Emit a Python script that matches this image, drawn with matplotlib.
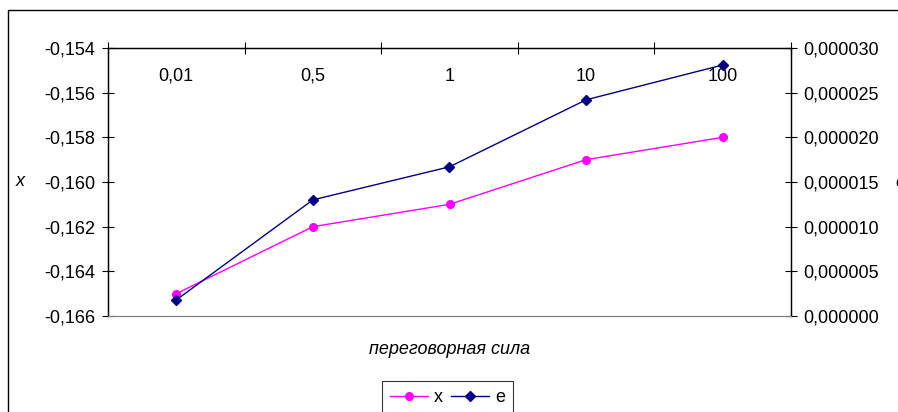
import numpy as np
import matplotlib.pyplot as plt
from matplotlib.patches import Rectangle
from matplotlib.ticker import FuncFormatter, MultipleLocator

plt.rcParams['font.family'] = ['Liberation Sans', 'DejaVu Sans']

categories = ['0,01', '0,5', '1', '10', '100']
x_vals = [-0.165, -0.162, -0.161, -0.159, -0.158]
e_vals = [0.0000018, 0.0000130, 0.0000167, 0.0000242, 0.0000281]

fs = 13

fig = plt.figure(figsize=(8.98, 4.12), dpi=100)
ax = fig.add_axes([108 / 898, 1 - 316 / 412, 683 / 898, 268 / 412])
ax2 = ax.twinx()

pos = np.arange(len(categories))
l1, = ax.plot(pos, x_vals, color='#FF00FF', lw=1, marker='o', ms=5.5, label='x')
l2, = ax2.plot(pos, e_vals, color='#000080', lw=1, marker='D', ms=5, label='e')

ax.set_xlim(-0.5, len(categories) - 0.5)
ax.set_ylim(-0.166, -0.154)
ax2.set_ylim(0, 0.00003)
ax.yaxis.set_major_locator(MultipleLocator(0.002))
ax2.yaxis.set_major_locator(MultipleLocator(0.000005))
ax.yaxis.set_major_formatter(FuncFormatter(lambda v, p: f'{v:.3f}'.replace('.', ',')))
ax2.yaxis.set_major_formatter(FuncFormatter(lambda v, p: f'{v:.6f}'.replace('.', ',')))

# category axis at top, ticks between categories
ax.xaxis.tick_top()
ax.set_xticks(np.arange(len(categories) + 1) - 0.5)
ax.set_xticklabels([])
ax.tick_params(axis='x', direction='inout', length=9, width=0.8, color='black')
for i, c in enumerate(categories):
    ax.text(i, 0.895, c, transform=ax.get_xaxis_transform(), ha='center', va='center', fontsize=fs)

ax.tick_params(axis='y', direction='inout', length=8, width=0.8, labelsize=fs, pad=5)
ax2.tick_params(axis='y', direction='inout', length=8, width=0.8, labelsize=fs, pad=5)

for a in (ax, ax2):
    a.spines['bottom'].set_color('#808080')
    a.spines['bottom'].set_linewidth(0.8)
    for s in ('top', 'left', 'right'):
        a.spines[s].set_linewidth(0.9)

ax.set_ylabel('x', rotation=0, fontsize=fs, style='italic', va='center', ha='center')
ax.yaxis.set_label_coords(-0.129, 0.5)
ax2.set_ylabel('e', rotation=0, fontsize=fs, style='italic', va='center', ha='center')
ax2.yaxis.set_label_coords(1.16, 0.5)

fig.text(450 / 898, 1 - 350 / 412, 'переговорная сила', ha='center', va='center',
         fontsize=fs, style='italic')

leg = fig.legend(handles=[l1, l2], loc='upper left', bbox_to_anchor=(382 / 898, 1 - 381 / 412),
                 ncol=2, fontsize=fs, frameon=True, fancybox=False, edgecolor='black',
                 handlelength=2.1, columnspacing=0.5, handletextpad=0.3, borderpad=0.45,
                 borderaxespad=0)
leg.get_frame().set_linewidth(0.8)

fig.patches.append(Rectangle((8 / 898, -0.1), 1.2, 1 - 10 / 412 + 0.1, transform=fig.transFigure,
                             fill=False, edgecolor='black', lw=1, clip_on=False))

fig.savefig('out.png', dpi=100)
